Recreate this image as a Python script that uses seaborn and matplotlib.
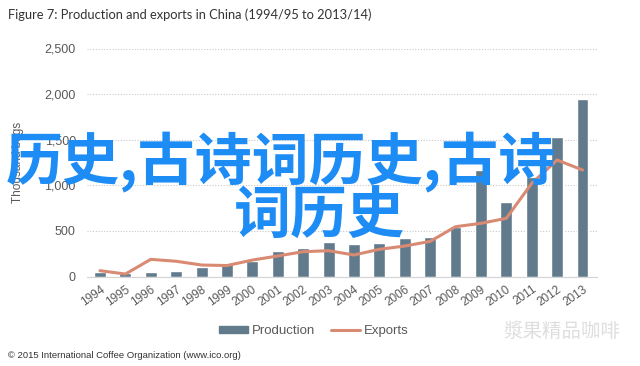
import numpy as np
import pandas as pd
import matplotlib
matplotlib.use('Agg')
import matplotlib.pyplot as plt
import seaborn as sns
from matplotlib.patches import Patch
from matplotlib.lines import Line2D
from matplotlib.ticker import FuncFormatter

# values (thousand 60-kg bags)
years = ['1994', '1995', '1996', '1997', '1998', '1999', '2000', '2001', '2002', '2003',
         '2004', '2005', '2006', '2007', '2008', '2009', '2010', '2011', '2012', '2013']
production = [53, 42, 46, 57, 101, 137, 175, 283, 316, 382,
              356, 364, 419, 428, 546, 1168, 820, 1088, 1526, 1943]
exports = [64, 27, 188, 167, 126, 120, 180, 225, 272, 283,
           236, 298, 334, 385, 546, 583, 638, 1022, 1277, 1168]

bar_color = '#627b8c'
line_color = '#d98a72'
text_color = '#595959'

sns.set_style('white')
plt.rcParams['font.family'] = ['Liberation Sans', 'Noto Sans CJK SC', 'DejaVu Sans']

df = pd.DataFrame({'pos': np.arange(len(years)), 'year': years,
                   'production': production, 'exports': exports})

fig = plt.figure(figsize=(6.4, 3.66), dpi=100)
ax = fig.add_axes([87 / 640, (366 - 276.5) / 366, (597 - 87) / 640, (276.5 - 48.5) / 366])

sns.barplot(data=df, x='pos', y='production', native_scale=True, color=bar_color,
            width=0.47, saturation=1, ax=ax)
sns.lineplot(data=df, x='pos', y='exports', color=line_color, lw=2.2, ax=ax)

ax.set_xlim(-0.51, 19.57)
ax.set_ylim(0, 2500)
ax.set_yticks(np.arange(0, 2501, 500))
ax.yaxis.set_major_formatter(FuncFormatter(lambda v, p: f'{int(v):,}'))
ax.set_xticks(df['pos'])
ax.set_xticklabels(years, rotation=35, ha='right', rotation_mode='anchor')
ax.tick_params(axis='x', length=0, pad=5, labelsize=8.5, labelcolor=text_color)
ax.tick_params(axis='y', length=0, pad=8, labelsize=9, labelcolor=text_color)
ax.set_xlabel('')
ax.set_ylabel('')
ax.yaxis.grid(True, linestyle=(0, (1, 1.5)), color='#c8c8c8', lw=0.8)
ax.set_axisbelow(True)
for s in ['top', 'right', 'left']:
    ax.spines[s].set_visible(False)
ax.spines['bottom'].set_color('#d4d4d4')

fig.text(18 / 640, 1 - 162 / 366, 'Thousand bags', rotation=90, ha='center', va='center',
         fontsize=8.5, color=text_color)

fig.text(8 / 640, 1 - 15 / 366, 'Figure 7: Production and exports in China (1994/95 to 2013/14)',
         fontsize=9.3, family='Lato', color='#333333', ha='left', va='center')

handles = [Patch(color=bar_color), Line2D([0], [0], color=line_color, lw=2.2)]
fig.legend(handles, ['Production', 'Exports'], loc='center', bbox_to_anchor=(314 / 640, 1 - 331 / 366),
           ncol=2, frameon=False, fontsize=9.5, handlelength=2.2, handleheight=0.5,
           columnspacing=1.2, handletextpad=0.3, labelcolor=text_color)

fig.text(8 / 640, 1 - 355 / 366, '\u00a9 2015 International Coffee Organization (www.ico.org)',
         fontsize=6.8, color='#333333', ha='left', va='center')

# watermark and overlay text
fig.text(562 / 640, 1 - 331 / 366, '漿果精品咖啡', fontsize=14, color='#dedede',
         ha='center', va='center', family=['Noto Sans CJK SC', 'DejaVu Sans'])
fig.text(6 / 640, 1 - 162 / 366, '历史,古诗词历史,古诗', fontsize=41, fontweight='bold',
         color='#1e8cf5', ha='left', va='center', family=['Noto Sans CJK SC', 'DejaVu Sans'])
fig.text(319 / 640, 1 - 217 / 366, '词历史', fontsize=41, fontweight='bold',
         color='#1e8cf5', ha='center', va='center', family=['Noto Sans CJK SC', 'DejaVu Sans'])

fig.savefig('out.png', dpi=100)
